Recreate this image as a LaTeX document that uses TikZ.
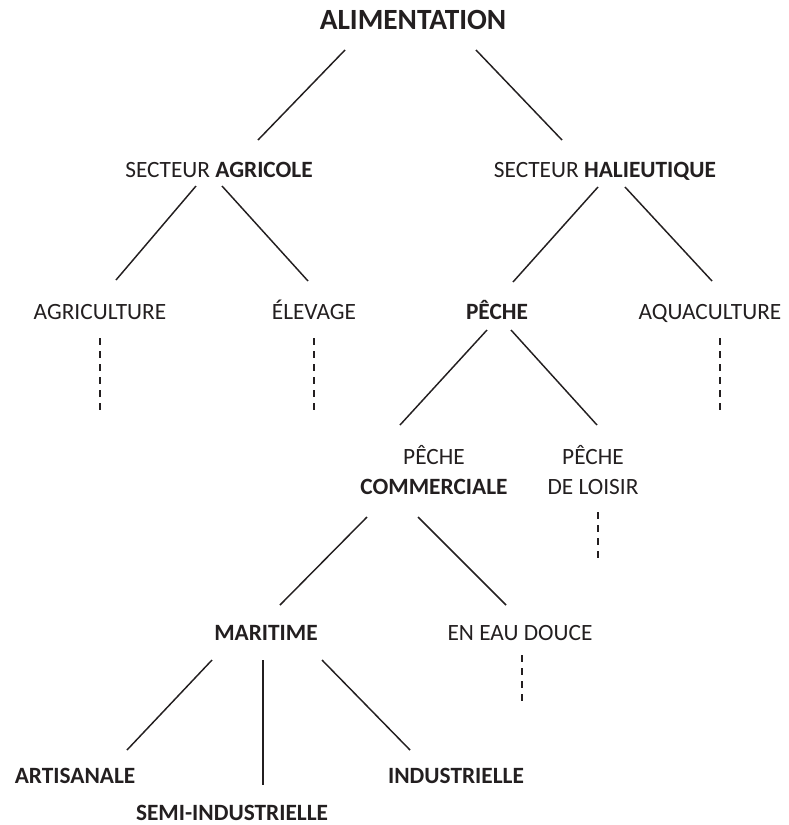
\documentclass[tikz,border=0pt]{standalone}
\usepackage{fontspec}
\setmainfont{Carlito}
\usetikzlibrary{calc}
\definecolor{ink}{HTML}{231F20}
\tikzset{
  lbl/.style={anchor=base,inner sep=0pt,text=ink,font=\fontsize{17.5}{22.5}\selectfont,align=center},
  link/.style={draw=ink,line width=1.1pt},
  dots/.style={draw=ink,line width=1.1pt,dash pattern=on 5.25pt off 4.5pt}
}
\begin{document}
\begin{tikzpicture}[x=0.75pt,y=-0.75pt]
  \useasboundingbox (0,0) rectangle (789,825);
  % nodes
  \node[lbl,font=\fontsize{22}{26}\selectfont\bfseries] (alim) at (413,29) {ALIMENTATION};
  \node[lbl] (agri) at (219,177) {SECTEUR \textbf{AGRICOLE}};
  \node[lbl] (hali) at (605,177) {SECTEUR \textbf{HALIEUTIQUE}};
  \node[lbl] (agricult) at (100,319) {AGRICULTURE};
  \node[lbl] (elev) at (314,319) {ÉLEVAGE};
  \node[lbl] (peche) at (497,319) {\textbf{PÊCHE}};
  \node[lbl] (aqua) at (710,319) {AQUACULTURE};
  \node[lbl] (comm) at (434,494) {PÊCHE\\\textbf{COMMERCIALE}};
  \node[lbl] (loisir) at (593,494) {PÊCHE\\DE LOISIR};
  \node[lbl] (mari) at (266,640) {\textbf{MARITIME}};
  \node[lbl] (eau) at (520,640) {EN EAU DOUCE};
  \node[lbl] (arti) at (75,783) {\textbf{ARTISANALE}};
  \node[lbl] (semi) at (232,820) {\textbf{SEMI-INDUSTRIELLE}};
  \node[lbl] (indus) at (456,783) {\textbf{INDUSTRIELLE}};
  % branches
  \draw[link] ($(alim.base)+(-68,21)$) -- ($(agri.base)+(39,-37)$);
  \draw[link] ($(alim.base)+(63,21)$) -- ($(hali.base)+(-43,-37)$);
  \draw[link] ($(agri.base)+(-23,9)$) -- ($(agricult.base)+(16,-39)$);
  \draw[link] ($(agri.base)+(3,9)$) -- ($(elev.base)+(-6,-38)$);
  \draw[link] ($(hali.base)+(-7,10)$) -- ($(peche.base)+(16,-37)$);
  \draw[link] ($(hali.base)+(20,10)$) -- ($(aqua.base)+(2,-38)$);
  \draw[link] ($(peche.base)+(-10,11)$) -- ($(comm.base)+(-34,-69)$);
  \draw[link] ($(peche.base)+(14,11)$) -- ($(loisir.base)+(4,-69)$);
  \draw[link] ($(comm.base)+(-67,23)$) -- ($(mari.base)+(14,-35)$);
  \draw[link] ($(comm.base)+(-16,23)$) -- ($(eau.base)+(-14,-35)$);
  \draw[link] ($(mari.base)+(-54,20)$) -- ($(arti.base)+(52,-33)$);
  \draw[link] ($(mari.base)+(-3,20)$) -- ($(semi.base)+(31,-35)$);
  \draw[link] ($(mari.base)+(56,20)$) -- ($(indus.base)+(-46,-33)$);
  % open ends
  \draw[dots] ($(agricult.base)+(0,19)$) -- ++(0,72);
  \draw[dots] ($(elev.base)+(0,19)$) -- ++(0,72);
  \draw[dots] ($(aqua.base)+(10,19)$) -- ++(0,72);
  \draw[dots] ($(loisir.base)+(5,18)$) -- ++(0,48);
  \draw[dots] ($(eau.base)+(2,15)$) -- ++(0,50);
\end{tikzpicture}
\end{document}
